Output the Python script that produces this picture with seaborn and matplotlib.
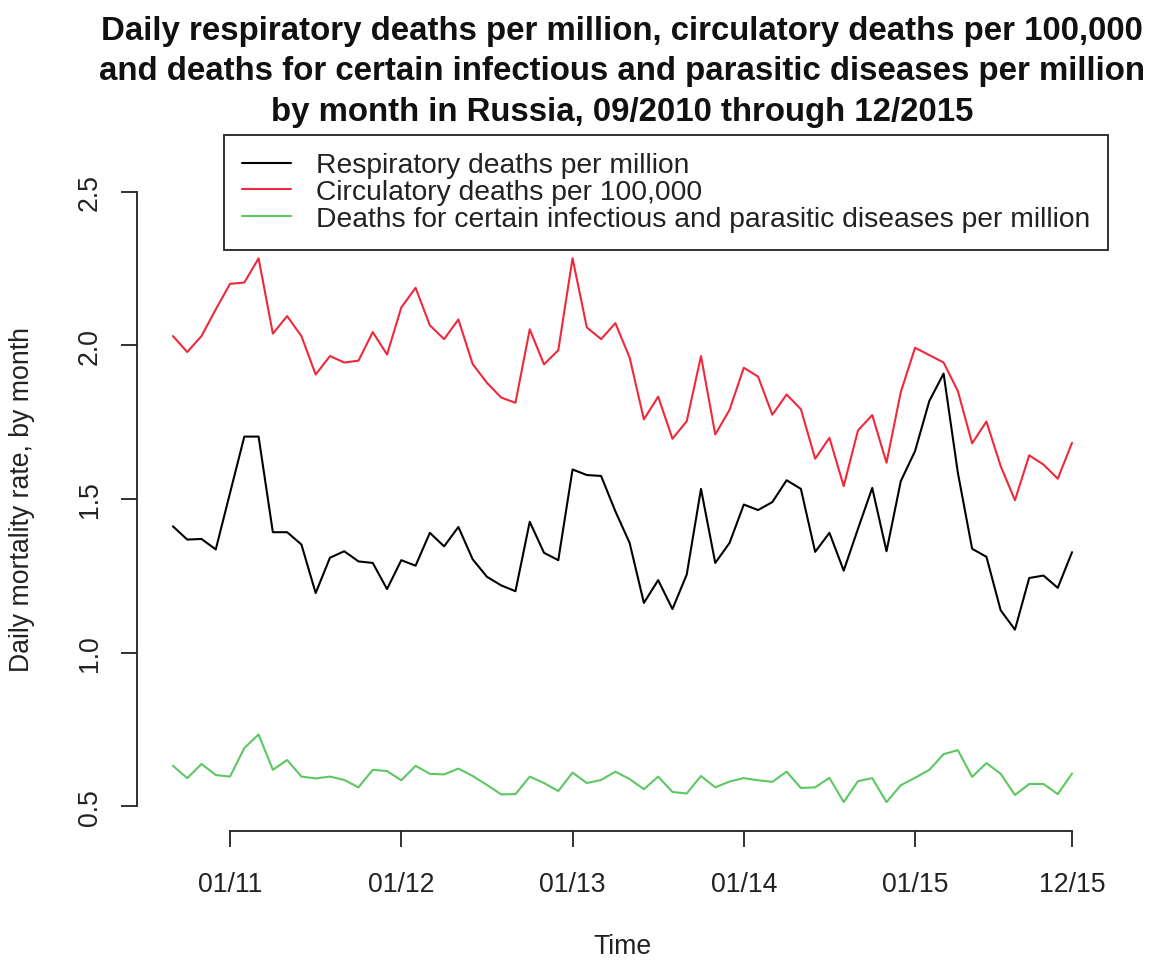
import numpy as np
import pandas as pd
import matplotlib.pyplot as plt
import seaborn as sns

sns.set_style("white")
plt.rcParams['font.family'] = ['Liberation Sans', 'DejaVu Sans']

# ---------------- data: monthly values 09/2010 .. 12/2015 ----------------
months = list(range(64))

respiratory = [
    1.411, 1.368, 1.370, 1.336, 1.520, 1.703, 1.703, 1.392, 1.392, 1.352,
    1.194, 1.309, 1.330, 1.297, 1.292, 1.207, 1.301, 1.283, 1.390, 1.346,
    1.409, 1.304, 1.247, 1.219, 1.200, 1.426, 1.325, 1.301, 1.596, 1.578,
    1.575, 1.460, 1.357, 1.162, 1.236, 1.142, 1.254, 1.533, 1.292, 1.357,
    1.482, 1.464, 1.490, 1.561, 1.533, 1.328, 1.390, 1.267, 1.403, 1.536,
    1.330, 1.558, 1.656, 1.819, 1.908, 1.585, 1.338, 1.312, 1.138, 1.075,
    1.243, 1.251, 1.211, 1.327,
]

circulatory = [
    2.030, 1.978, 2.030, 2.117, 2.200, 2.204, 2.283, 2.038, 2.095, 2.030,
    1.905, 1.965, 1.944, 1.950, 2.043, 1.970, 2.123, 2.187, 2.065, 2.020,
    2.084, 1.939, 1.878, 1.830, 1.813, 2.052, 1.938, 1.984, 2.283, 2.058,
    2.020, 2.072, 1.960, 1.759, 1.833, 1.696, 1.753, 1.965, 1.710, 1.790,
    1.927, 1.898, 1.774, 1.840, 1.792, 1.631, 1.699, 1.542, 1.723, 1.773,
    1.618, 1.848, 1.992, 1.968, 1.944, 1.851, 1.681, 1.752, 1.607, 1.496,
    1.642, 1.612, 1.566, 1.683,
]

infectious = [
    0.632, 0.592, 0.638, 0.602, 0.597, 0.690, 0.734, 0.619, 0.651, 0.597,
    0.591, 0.597, 0.586, 0.562, 0.619, 0.615, 0.585, 0.632, 0.606, 0.604,
    0.623, 0.599, 0.570, 0.539, 0.540, 0.597, 0.576, 0.550, 0.610, 0.576,
    0.586, 0.613, 0.589, 0.556, 0.597, 0.547, 0.542, 0.599, 0.562, 0.581,
    0.592, 0.585, 0.580, 0.613, 0.560, 0.562, 0.593, 0.514, 0.582, 0.592,
    0.514, 0.569, 0.593, 0.619, 0.670, 0.683, 0.596, 0.641, 0.606, 0.537,
    0.573, 0.573, 0.540, 0.607,
]

series_names = [
    'Respiratory deaths per million',
    'Circulatory deaths per 100,000',
    'Deaths for certain infectious and parasitic diseases per million',
]
series_colors = ['#000000', '#F0283A', '#5CC863']

x_tick_pos = [4, 16, 28, 40, 52, 63]
x_tick_labels = ['01/11', '01/12', '01/13', '01/14', '01/15', '12/15']
y_ticks = [0.5, 1.0, 1.5, 2.0, 2.5]

title = ('Daily respiratory deaths per million, circulatory deaths per 100,000\n'
         'and deaths for certain infectious and parasitic diseases per million\n'
         'by month in Russia, 09/2010 through 12/2015')

# long-form frame for seaborn
df = pd.DataFrame({
    'month': months * 3,
    'value': respiratory + circulatory + infectious,
    'series': [series_names[0]] * 64 + [series_names[1]] * 64 + [series_names[2]] * 64,
})

# ---------------- figure ----------------
W, H = 1157, 962
fig = plt.figure(figsize=(W / 100, H / 100), dpi=100)
ax = fig.add_axes([137 / W, 1 - 832 / H, 971 / W, 664 / H])

sns.lineplot(data=df, x='month', y='value', hue='series', hue_order=series_names,
             palette=series_colors, linewidth=1.5, ax=ax, legend=False)

# R-like extents (4% padding)
ax.set_xlim(-0.04 * 63, 63 * 1.04)
ax.set_ylim(0.5 - 0.08, 2.5 + 0.08)

for side in ['top', 'right']:
    ax.spines[side].set_visible(False)
ax.spines['left'].set_bounds(0.5, 2.5)
ax.spines['bottom'].set_bounds(x_tick_pos[0], x_tick_pos[-1])
for side in ['left', 'bottom']:
    ax.spines[side].set_linewidth(1.3)
    ax.spines[side].set_color('#222222')

ax.set_xticks(x_tick_pos)
ax.set_xticklabels(x_tick_labels)
ax.set_yticks(y_ticks)
ax.set_yticklabels([f'{v:.1f}' for v in y_ticks], rotation=90, va='center')
ax.tick_params(axis='both', direction='out', length=11.5, width=1.3, color='#222222',
               labelsize=19.2, labelcolor='#222222', bottom=True, left=True)
ax.tick_params(axis='x', pad=17.5)
ax.tick_params(axis='y', pad=13)
ax.set_xlabel('')
ax.set_ylabel('')

# legend
handles = [plt.Line2D([], [], color=c, lw=1.5) for c in series_colors]
leg = ax.legend(handles, series_names, loc='upper right',
                bbox_to_anchor=(1.0, (832 - 136) / 664), borderaxespad=0,
                fontsize=20.3, frameon=True, fancybox=False, framealpha=1,
                edgecolor='#222222', handlelength=1.75, handletextpad=0.9,
                labelspacing=0.03, borderpad=0.62)
leg.get_frame().set_linewidth(1.3)
for t in leg.get_texts():
    t.set_color('#222222')

fig.text(622 / W, 1 - 16 / H, title, ha='center', va='top', ma='center',
         fontsize=23.8, fontweight='bold', linespacing=1.39, color='#111111')
fig.text(622 / W, 1 - 947 / H, 'Time', ha='center', va='center', fontsize=19.2,
         color='#222222')
fig.text(22 / W, 1 - 500 / H, 'Daily mortality rate, by month', ha='center',
         va='center', rotation=90, fontsize=19.2, color='#222222')

fig.savefig('out.png', dpi=100)
